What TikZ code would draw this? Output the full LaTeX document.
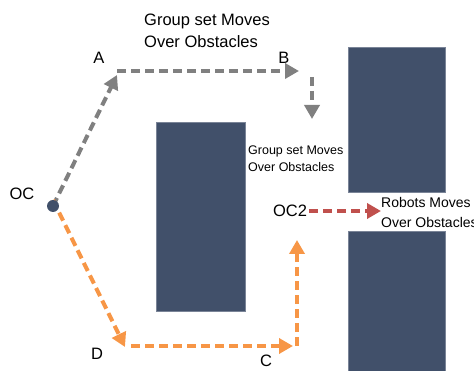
\documentclass[tikz,border=0pt]{standalone}
\usepackage{fontspec}
\setmainfont{Liberation Sans}
\usetikzlibrary{arrows.meta}
\definecolor{obstacleblue}{RGB}{65,80,106}
\definecolor{pathgray}{RGB}{128,128,128}
\definecolor{pathorange}{RGB}{247,150,70}
\definecolor{pathred}{RGB}{192,80,77}
\begin{document}
\begin{tikzpicture}[x=1pt,y=-1pt,
    obstacle/.style = {fill=obstacleblue,draw=obstacleblue!70!white,line width=0.6pt},
    move/.style = {line width=4pt,dash pattern=on 9pt off 5pt,-{Triangle[length=14pt,width=15pt]}},
    lbl/.style = {inner sep=0pt,font=\fontsize{16.5}{20}\selectfont},
    note/.style = {inner sep=0pt,anchor=west,align=left}]

    \useasboundingbox (0,0) rectangle (474,371);

    % Obstacles
    \fill[obstacle] (156,122) rectangle (245,311);
    \fill[obstacle] (348,47) rectangle (445,192);
    \fill[obstacle] (348,231) rectangle (445,372);

    % Points
    \coordinate (OC) at (53,206);
    \coordinate (A) at (117,71);
    \coordinate (B) at (312,77);
    \coordinate (D) at (131,346);
    \coordinate (C) at (297,346);
    \coordinate (OC2) at (309,211);

    % Labels
    \node[lbl] (oclabel) at (22,194) {OC};
    \node[lbl] (alabel) at (99,58) {A};
    \node[lbl] (blabel) at (284,58) {B};
    \node[lbl] (dlabel) at (97,354) {D};
    \node[lbl] (clabel) at (266,361) {C};
    \node[lbl] (oc2label) at (290,211) {OC2};

    % Notes
    \node[note,font=\fontsize{16.5}{22}\selectfont] (groupnote) at (144,31) {Group set Moves\\Over Obstacles};
    \node[note,font=\fontsize{12.5}{17}\selectfont] (gapnote) at (248,158.5) {Group set Moves\\Over Obstacles};
    \node[note,font=\fontsize{14}{20}\selectfont] (robotnote) at (381,212) {Robots Moves\\Over Obstacles};

    % Upper path
    \draw[move,pathgray] (OC) -- (117,75);
    \draw[move,pathgray] (A) -- (299,71);
    \draw[move,pathgray] (B) -- (312,119);

    % Lower path
    \draw[move,pathorange] ([yshift=6]OC) -- (125,347);
    \draw[move,pathorange] (D) -- (293,346);
    \draw[move,pathorange] (C) -- (297,240);

    % Through the gap
    \draw[move,pathred] (OC2) -- (381,211);

    % Start point
    \fill[obstacleblue] (OC) circle (6);

\end{tikzpicture}
\end{document}
